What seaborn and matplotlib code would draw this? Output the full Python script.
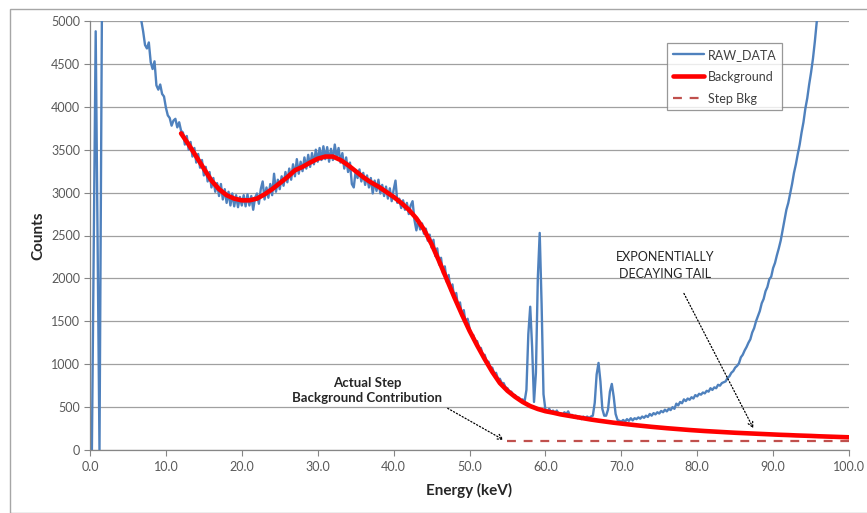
import numpy as np
import seaborn as sns
import matplotlib.pyplot as plt
from matplotlib.patches import Rectangle

# === Data ===

# raw spectrum, one value per 0.25 keV channel from 0.0 to 100.0 keV
raw_counts = [
    0, 0, 2400, 4880, 2400, 0, 4000, 8000, 9500, 10200, 10600, 10800, 10700, 10400, 10000, 9500, 9000, 8500, 8000, 7500,
    7000, 6600, 6200, 5900, 5600, 5400, 5200, 5010, 4880, 4720, 4680, 4750, 4520, 4440, 4530, 4250, 4200, 4260, 4150, 4120,
    3990, 3900, 3870, 3780, 3840, 3860, 3760, 3820, 3720, 3700, 3560, 3660, 3500, 3590, 3420, 3520, 3350, 3450, 3290, 3380,
    3200, 3300, 3130, 3240, 3060, 3170, 3010, 3110, 2960, 3100, 2920, 3040, 2880, 3010, 2850, 2990, 2840, 2970, 2830, 2950,
    2850, 2970, 2840, 2980, 2850, 2960, 2800, 2940, 2990, 2870, 3040, 3130, 2920, 3060, 2940, 3100, 2970, 3220, 3010, 3150,
    3040, 3190, 3080, 3240, 3120, 3280, 3150, 3330, 3190, 3390, 3220, 3360, 3250, 3410, 3280, 3440, 3300, 3460, 3330, 3500,
    3360, 3520, 3380, 3540, 3390, 3530, 3360, 3510, 3380, 3560, 3410, 3520, 3350, 3460, 3280, 3410, 3240, 3350, 3100, 3060,
    3250, 3170, 3270, 3130, 3230, 3090, 3200, 3060, 3170, 2990, 3140, 3020, 3150, 2990, 3090, 2960, 3070, 2930, 3050, 2900,
    3030, 3140, 2880, 2930, 2820, 2910, 2800, 2880, 2750, 2850, 2900, 2680, 2560, 2680, 2570, 2640, 2520, 2580, 2440, 2510,
    2360, 2450, 2260, 2350, 2160, 2240, 2060, 2140, 1960, 2040, 1860, 1930, 1760, 1830, 1660, 1720, 1560, 1630, 1470, 1530,
    1420, 1340, 1340, 1260, 1270, 1180, 1190, 1100, 1110, 1030, 1030, 960, 960, 890, 900, 830, 830, 780, 780, 730,
    720, 680, 680, 640, 640, 610, 610, 580, 590, 560, 700, 1350, 1670, 1200, 560, 900, 2000, 2530, 1700, 650,
    470, 450, 480, 440, 460, 430, 460, 420, 430, 410, 440, 420, 450, 400, 410, 380, 400, 370, 390, 360,
    390, 370, 390, 370, 390, 400, 550, 880, 1015, 800, 480, 400, 400, 470, 680, 770, 620, 420, 350, 340,
    330, 350, 330, 360, 340, 370, 345, 370, 360, 380, 365, 390, 375, 400, 385, 420, 400, 430, 415, 440,
    425, 455, 440, 470, 450, 480, 465, 500, 480, 540, 520, 560, 545, 590, 570, 600, 585, 615, 600, 640,
    625, 655, 645, 670, 660, 690, 680, 720, 700, 730, 720, 760, 750, 780, 790, 800, 840, 860, 900, 920,
    960, 980, 1010, 1080, 1110, 1160, 1200, 1250, 1290, 1370, 1420, 1500, 1560, 1620, 1710, 1760, 1850, 1900, 1990, 2020,
    2120, 2180, 2270, 2350, 2440, 2560, 2680, 2800, 2880, 2990, 3100, 3230, 3330, 3450, 3560, 3700, 3820, 3980, 4100, 4260,
    4400, 4560, 4760, 4990, 5200, 5480, 5750, 6050, 6300, 6620, 6900, 7250, 7550, 7900, 8200, 8600, 8950, 9300, 9700, 10100,
    10500,
]
kev_per_channel = 0.25
raw_energy = np.arange(len(raw_counts)) * kev_per_channel

# fitted background, 1 keV steps from 12 to 100 keV
bkg_energy = list(range(12, 101))
bkg_counts = [
    3690, 3560, 3420, 3280, 3140, 3040, 2970, 2930, 2910, 2910,
    2930, 2980, 3040, 3110, 3180, 3260, 3300, 3350, 3395, 3420,
    3420, 3380, 3320, 3250, 3180, 3120, 3070, 3010, 2950, 2880,
    2800, 2700, 2570, 2400, 2200, 1990, 1780, 1580, 1390, 1220,
    1060, 910, 780, 690, 620, 560, 512, 478, 452, 435,
    415, 400, 385, 370, 355, 342, 330, 318, 308, 298,
    288, 279, 270, 262, 254, 247, 240, 233, 227, 221,
    216, 211, 206, 201, 197, 193, 189, 185, 181, 177,
    174, 170, 167, 164, 160, 157, 154, 151, 148,
]

# step background
step_energy = [55, 100]
step_counts = [100, 100]

x_ticks = [0, 10, 20, 30, 40, 50, 60, 70, 80, 90, 100]
y_ticks = [0, 500, 1000, 1500, 2000, 2500, 3000, 3500, 4000, 4500, 5000]

# === Plot ===

sns.set_style("white")
plt.rcParams['font.family'] = ['Lato', 'DejaVu Sans']

fig = plt.figure(figsize=(8.67, 5.13), dpi=100)
ax = fig.add_axes([90 / 867, 1 - 450 / 513, 759 / 867, 429 / 513])

# outer chart frame
fig.patches.append(Rectangle((10 / 867, 0.0), 1.0, 1 - 9 / 513, transform=fig.transFigure,
                             fill=False, edgecolor="#a6a6a6", linewidth=1.0, clip_on=False))

sns.lineplot(x=raw_energy, y=raw_counts, ax=ax, color="#4f81bd", linewidth=1.7,
             label="RAW_DATA", estimator=None, sort=False)
sns.lineplot(x=bkg_energy, y=bkg_counts, ax=ax, color="#ff0000", linewidth=3.3,
             label="Background", estimator=None, sort=False)
sns.lineplot(x=step_energy, y=step_counts, ax=ax, color="#c0504d", linewidth=1.6,
             label="Step Bkg", estimator=None, sort=False, linestyle=(0, (4, 3.5)))

ax.set_xlim(0, 100)
ax.set_ylim(0, 5000)
ax.set_xticks(x_ticks)
ax.set_xticklabels([f"{t:.1f}" for t in x_ticks])
ax.set_yticks(y_ticks)
ax.set_yticklabels([str(t) for t in y_ticks])
ax.tick_params(axis="both", labelsize=9, labelcolor="#595959", color="#868686",
               length=4, width=0.8, direction="out", pad=3)
ax.tick_params(axis="x", bottom=True, pad=4)
ax.tick_params(axis="y", left=True)

ax.yaxis.grid(True, color="#a0a0a0", linewidth=0.9)
ax.xaxis.grid(False)
ax.set_axisbelow(True)
for side in ["top", "right"]:
    ax.spines[side].set_visible(False)
for side in ["left", "bottom"]:
    ax.spines[side].set_color("#868686")
    ax.spines[side].set_linewidth(0.9)

ax.set_xlabel("Energy (keV)", fontsize=11, fontweight="bold")
ax.set_ylabel("Counts", fontsize=11, fontweight="bold")
ax.xaxis.set_label_coords(0.5, -(483 - 450) / 429)
ax.yaxis.set_label_coords(-(90 - 45) / 759, 0.5)

leg = ax.legend(loc="upper left", bbox_to_anchor=((667 - 90) / 759, (450 - 43) / 429),
                fontsize=9, frameon=True, fancybox=False, handlelength=2.5,
                labelspacing=0.8, borderpad=0.45, borderaxespad=0,
                handletextpad=0.3)
leg.get_frame().set_edgecolor("#7f7f7f")
leg.get_frame().set_linewidth(0.9)
for txt in leg.get_texts():
    txt.set_color("#404040")

# annotations
ax.annotate("Actual Step\nBackground Contribution", xy=(54.5, 117), xytext=(36.5, 690),
            ha="center", va="center", fontsize=9.5, fontweight="bold", linespacing=1.3,
            arrowprops=dict(arrowstyle="->", linestyle=":", color="black", lw=0.9,
                            shrinkA=2, shrinkB=0, relpos=(0.99, 0.0)))
ax.annotate("EXPONENTIALLY\nDECAYING TAIL", xy=(87.4, 253), xytext=(75.8, 2150),
            ha="center", va="center", fontsize=9, color="#262626", linespacing=1.55,
            arrowprops=dict(arrowstyle="->", linestyle=":", color="black", lw=0.9,
                            shrinkA=8, shrinkB=0, relpos=(0.62, 0.0)))

fig.savefig("out.png", dpi=100)
